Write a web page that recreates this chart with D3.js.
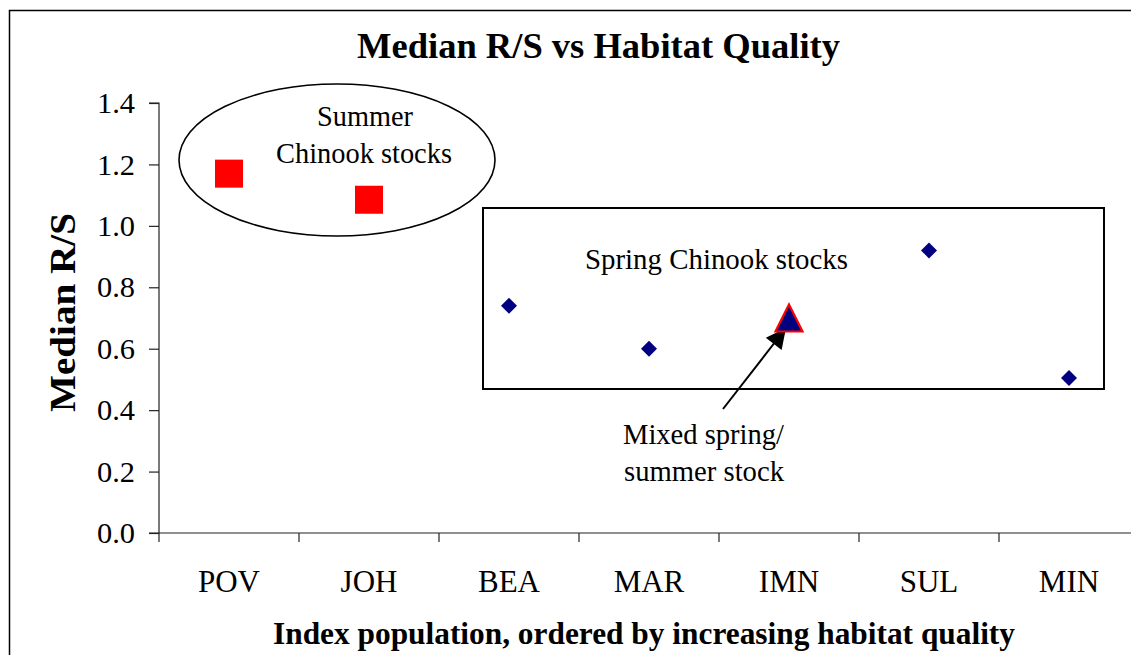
<!DOCTYPE html>
<html>
<head>
<meta charset="utf-8">
<script src="https://cdn.jsdelivr.net/npm/d3@7"></script>
<style>
  html, body { margin: 0; padding: 0; background: #fff; }
  svg { display: block; font-family: "Liberation Serif", "Times New Roman", serif; }
</style>
</head>
<body>
<svg id="chart" width="1131" height="655"></svg>
<script>
// ---- Data ----
const categories = ["POV", "JOH", "BEA", "MAR", "IMN", "SUL", "MIN"];
const summerStocks = ["POV", "JOH"];
const summerValues = [1.17, 1.085];
const springStocks = ["BEA", "MAR", "SUL", "MIN"];
const springValues = [0.74, 0.60, 0.92, 0.505];
const mixedStocks = ["IMN"];
const mixedValues = [0.70];
const yTicks = [0, 0.2, 0.4, 0.6, 0.8, 1.0, 1.2, 1.4];
const titleText = "Median R/S vs Habitat Quality";
const xTitleText = "Index population, ordered by increasing habitat quality";
const yTitleText = "Median R/S";

// ---- Layout ----
const svg = d3.select("#chart");
const plot = { left: 159, right: 1139, top: 103, bottom: 533 };

const x = d3.scaleBand().domain(categories).range([plot.left, plot.right]).padding(0);
const y = d3.scaleLinear().domain([0, 1.4]).range([plot.bottom, plot.top]);

// outer border
svg.append("rect")
  .attr("x", 9.5).attr("y", 10.5)
  .attr("width", 1200).attr("height", 700)
  .attr("fill", "none").attr("stroke", "#000").attr("stroke-width", 1.5);

// title
svg.append("text")
  .attr("x", 357).attr("y", 58)
  .attr("font-size", 36).attr("font-weight", "bold")
  .attr("textLength", 483).attr("lengthAdjust", "spacingAndGlyphs")
  .text(titleText);

// y axis
const yAxis = d3.axisLeft(y).tickValues(yTicks).tickFormat(d3.format(".1f")).tickSize(10).tickPadding(14);
const gy = svg.append("g").attr("transform", `translate(${plot.left},0)`).call(yAxis);
gy.select(".domain").attr("stroke", "#222").attr("stroke-width", 1.2).attr("d", `M-10,${plot.top}H0V${plot.bottom}H-10`);
gy.selectAll(".tick line").attr("stroke", "#222").attr("stroke-width", 1.2);
gy.selectAll(".tick text")
  .attr("font-family", "Liberation Serif, Times New Roman, serif")
  .attr("font-size", 30).attr("fill", "#000")
  .attr("textLength", 38).attr("lengthAdjust", "spacingAndGlyphs");

// x axis (ticks at category boundaries)
const gx = svg.append("g").attr("transform", `translate(0,${plot.bottom})`);
gx.append("line").attr("x1", plot.left).attr("x2", plot.right)
  .attr("y1", 0).attr("y2", 0).attr("stroke", "#222").attr("stroke-width", 1.2);
const boundaries = categories.map(c => x(c)).concat([plot.right]);
gx.selectAll("line.tk").data(boundaries).join("line").attr("class", "tk")
  .attr("x1", d => d).attr("x2", d => d).attr("y1", 0).attr("y2", 9)
  .attr("stroke", "#222").attr("stroke-width", 1.2);
gx.selectAll("text.cat").data(categories).join("text").attr("class", "cat")
  .attr("x", d => x(d) + x.bandwidth() / 2).attr("y", 59)
  .attr("text-anchor", "middle").attr("font-size", 31)
  .text(d => d);

// axis titles
svg.append("text")
  .attr("x", 273).attr("y", 644)
  .attr("font-size", 31).attr("font-weight", "bold")
  .attr("textLength", 742).attr("lengthAdjust", "spacingAndGlyphs")
  .text(xTitleText);

svg.append("text")
  .attr("transform", "translate(75,412) rotate(-90)")
  .attr("font-size", 36).attr("font-weight", "bold")
  .attr("textLength", 199).attr("lengthAdjust", "spacingAndGlyphs")
  .text(yTitleText);

// ---- annotations ----
svg.append("ellipse")
  .attr("cx", 337).attr("cy", 160).attr("rx", 158).attr("ry", 76)
  .attr("fill", "none").attr("stroke", "#000").attr("stroke-width", 1.6);
svg.append("text").attr("x", 317).attr("y", 126)
  .attr("font-size", 30).attr("textLength", 96).attr("lengthAdjust", "spacingAndGlyphs")
  .text("Summer");
svg.append("text").attr("x", 276).attr("y", 163)
  .attr("font-size", 30).attr("textLength", 176).attr("lengthAdjust", "spacingAndGlyphs")
  .text("Chinook stocks");

svg.append("rect")
  .attr("x", 483).attr("y", 208).attr("width", 621).attr("height", 181)
  .attr("fill", "none").attr("stroke", "#000").attr("stroke-width", 2);
svg.append("text").attr("x", 585).attr("y", 269)
  .attr("font-size", 30).attr("textLength", 263).attr("lengthAdjust", "spacingAndGlyphs")
  .text("Spring Chinook stocks");

svg.append("text").attr("x", 623).attr("y", 444)
  .attr("font-size", 30).attr("textLength", 161).attr("lengthAdjust", "spacingAndGlyphs")
  .text("Mixed spring/");
svg.append("text").attr("x", 624).attr("y", 481)
  .attr("font-size", 30).attr("textLength", 160).attr("lengthAdjust", "spacingAndGlyphs")
  .text("summer stock");

// ---- markers ----
const cx = d => x(d) + x.bandwidth() / 2;

svg.selectAll("rect.summer").data(summerStocks.map((s, i) => ({ s, v: summerValues[i] })))
  .join("rect").attr("class", "summer")
  .attr("x", d => cx(d.s) - 14).attr("y", d => y(d.v) - 14)
  .attr("width", 28).attr("height", 28)
  .attr("fill", "#ff0000");

svg.selectAll("path.spring").data(springStocks.map((s, i) => ({ s, v: springValues[i] })))
  .join("path").attr("class", "spring")
  .attr("transform", d => `translate(${cx(d.s)},${y(d.v)}) rotate(45)`)
  .attr("d", d3.symbol().type(d3.symbolSquare).size(128))
  .attr("fill", "#000080");

// arrow
svg.append("defs").append("marker")
  .attr("id", "arrowhead").attr("viewBox", "0 0 10 10")
  .attr("refX", 10).attr("refY", 5)
  .attr("markerWidth", 24).attr("markerHeight", 20)
  .attr("markerUnits", "userSpaceOnUse")
  .attr("orient", "auto")
  .append("path").attr("d", "M0,0 L10,5 L0,10 Z").attr("fill", "#000");

const mx = cx(mixedStocks[0]), my = y(mixedValues[0]);
svg.append("line")
  .attr("x1", 723).attr("y1", 409)
  .attr("x2", mx - 3).attr("y2", my + 10)
  .attr("stroke", "#000").attr("stroke-width", 2)
  .attr("marker-end", "url(#arrowhead)");

svg.selectAll("path.mixed").data(mixedStocks.map((s, i) => ({ s, v: mixedValues[i] })))
  .join("path").attr("class", "mixed")
  .attr("transform", d => `translate(${cx(d.s)},${y(d.v)})`)
  .attr("d", "M0,-13.5 L13.5,13.5 L-13.5,13.5 Z")
  .attr("fill", "#000080").attr("stroke", "#ff0000").attr("stroke-width", 2.2)
  .attr("stroke-linejoin", "miter");
</script>
</body>
</html>
